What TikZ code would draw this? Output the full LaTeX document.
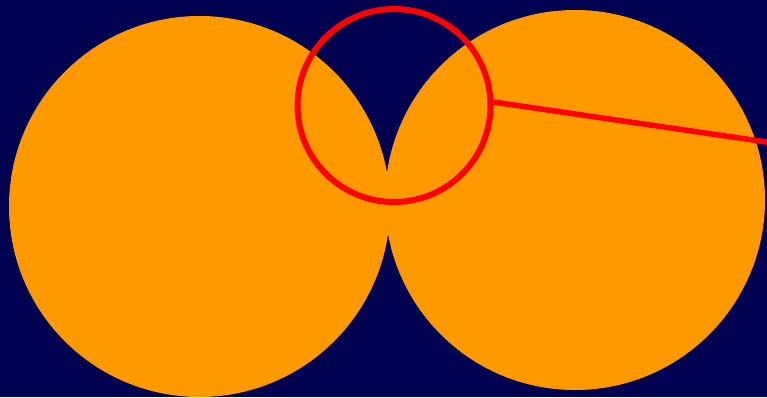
\documentclass[tikz,border=0pt]{standalone}
\usepackage{xcolor}
\definecolor{nightblue}{HTML}{000050}
\definecolor{sunorange}{HTML}{FF9900}
\definecolor{ringred}{HTML}{FF0000}

\begin{document}
\begin{tikzpicture}[
    x=1pt, y=-1pt,
    disc/.style={circle, fill=sunorange, inner sep=0pt, outer sep=0pt},
    ring/.style={circle, draw=ringred, line width=6pt, inner sep=0pt, minimum size=193pt},
]
    \fill[nightblue] (0, 0) rectangle (767, 397);
    \useasboundingbox (0, 0) rectangle (767, 397);
    \begin{scope}
    \clip (0, 0) rectangle (767, 397);
    \node[disc, minimum size=381pt] (left) at (199.5, 206.5) {};
    \node[disc, minimum size=380pt] (right) at (575, 200) {};
    \node[ring] (lens) at (394, 105.5) {};
    \coordinate (tail) at (770, 142.5);

    \draw[ringred, line width=5.5pt] (lens.2) -- (tail);
    \end{scope}
\end{tikzpicture}
\end{document}
